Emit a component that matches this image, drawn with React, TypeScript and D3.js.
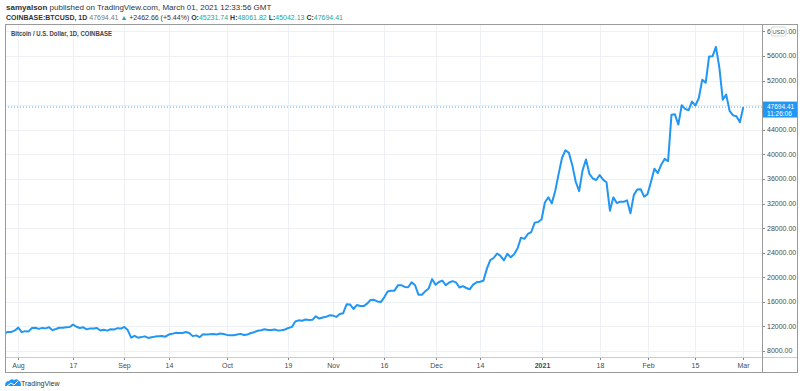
import React from "react";
import * as d3 from "d3";

// daily closes, Coinbase BTC/USD
const startDay = "2020-07-28";
const julCloses = [10930, 11100, 11110, 11350];
const augCloses = [11800, 11070, 11230, 11190, 11740, 11770, 11600, 11760, 11680, 11880, 11390, 11570, 11780, 11770, 11860, 11910, 12300, 11950, 11750, 11860, 11520, 11680, 11650, 11750, 11330, 11470, 11320, 11540, 11480, 11710, 11650];
const sepCloses = [11920, 11400, 10170, 10470, 10170, 10260, 10380, 10130, 10230, 10340, 10390, 10440, 10330, 10680, 10790, 10950, 10940, 10930, 11090, 10920, 10420, 10540, 10240, 10740, 10690, 10730, 10770, 10700, 10840, 10780];
const octCloses = [10620, 10570, 10550, 10670, 10790, 10600, 10670, 10930, 11060, 11300, 11380, 11540, 11430, 11430, 11500, 11320, 11370, 11500, 11750, 11920, 12810, 12990, 12930, 13120, 13040, 13070, 13650, 13280, 13460, 13560, 13800];
const novCloses = [13760, 13550, 14020, 14150, 15590, 15580, 14830, 15480, 15330, 15310, 15700, 16290, 16330, 16070, 15960, 16730, 17670, 17800, 17820, 18680, 18710, 18420, 18370, 19160, 18740, 17160, 17140, 17730, 18180, 19700];
const decCloses = [18780, 19220, 19450, 18700, 19150, 19370, 19170, 18330, 18550, 18250, 18040, 18810, 19170, 19280, 19440, 21360, 22800, 23130, 23860, 23480, 22740, 23820, 23250, 23730, 24710, 26440, 26250, 27040, 27360, 28890, 28990];
const janCloses = [29390, 32200, 33000, 32020, 34030, 36820, 39450, 40670, 40240, 38240, 35540, 34010, 37390, 39150, 36830, 36070, 35820, 36630, 35890, 35470, 30830, 33000, 32090, 32280, 32270, 32520, 30420, 33400, 34270, 34320, 33110];
const febCloses = [33530, 35510, 37670, 36930, 38310, 39260, 38880, 46450, 46510, 44840, 47990, 47400, 47180, 48580, 47940, 49160, 52150, 51640, 55920, 55940, 57490, 54120, 48900, 49710, 47060, 46340, 46190, 45230];
const marCloses = [47694.41];

const priceTicks = [8000, 12000, 16000, 20000, 24000, 28000, 32000, 36000, 40000, 44000, 48000, 52000, 56000, 60000];
const timeTicks: [string, string][] = [
  ["2020-08-01", "Aug"], ["2020-08-17", "17"], ["2020-09-01", "Sep"], ["2020-09-14", "14"],
  ["2020-10-01", "Oct"], ["2020-10-19", "19"], ["2020-11-01", "Nov"], ["2020-11-16", "16"],
  ["2020-12-01", "Dec"], ["2020-12-14", "14"], ["2021-01-01", "2021"], ["2021-01-18", "18"],
  ["2021-02-01", "Feb"], ["2021-02-15", "15"], ["2021-03-01", "Mar"],
];

const lastPrice = 47694.41;
const countdown = "11:26:06";

const W = 812;
const H = 391;
const frame = { left: 5, top: 24, right: 798, bottom: 373 };
const priceAxisX = 762;
const timeAxisY = 357;
const font = "'Liberation Sans', Arial, sans-serif";
const blue = "#2196f3";
const teal = "#26a69a";

export default function App() {
  const closes = [...julCloses, ...augCloses, ...sepCloses, ...octCloses, ...novCloses, ...decCloses, ...janCloses, ...febCloses, ...marCloses];
  const t0 = new Date(startDay + "T00:00:00Z");
  const data = closes.map((v, i) => ({ date: d3.utcDay.offset(t0, i), value: v }));

  const x = d3
    .scaleUtc()
    .domain([new Date("2020-08-01T00:00:00Z"), new Date("2021-03-01T00:00:00Z")])
    .range([18.3, 743.3]);
  const y = d3.scaleLinear().domain([8000, 56000]).range([351, 56]);

  const line = d3
    .line<{ date: Date; value: number }>()
    .x((d) => x(d.date))
    .y((d) => y(d.value));

  const fmt = d3.format(".2f");
  const yLast = y(lastPrice);
  const boxTop = yLast - 5.5;
  const boxH = 16;

  return (
    <div style={{ position: "absolute", left: 0, top: 0 }}>
      <svg width={W} height={H} style={{ display: "block", background: "#fff", fontFamily: font }}>
        <defs>
          <clipPath id="plot">
            <rect x={frame.left} y={frame.top} width={priceAxisX - frame.left} height={timeAxisY - frame.top} />
          </clipPath>
        </defs>
        {/* header */}
        <text x={6} y={10} fontSize={8} fill="#333">
          <tspan fontWeight="bold">samyalson</tspan> published on TradingView.com, March 01, 2021 12:33:56 GMT
        </text>
        <text x={6} y={20} fontSize={7} fill="#333" textLength={337} lengthAdjust="spacingAndGlyphs">
          <tspan fontWeight="bold">COINBASE:BTCUSD, 1D</tspan>
          <tspan fill="#777"> 47694.41 </tspan>
          <tspan fill={teal}>▲</tspan>
          <tspan> +2462.66 (+5.44%) </tspan>
          <tspan fontWeight="bold">O:</tspan><tspan fill={teal}>45231.74 </tspan>
          <tspan fontWeight="bold">H:</tspan><tspan fill={teal}>48061.82 </tspan>
          <tspan fontWeight="bold">L:</tspan><tspan fill={teal}>45042.13 </tspan>
          <tspan fontWeight="bold">C:</tspan><tspan fill={teal}>47694.41</tspan>
        </text>

        {/* grid */}
        <g stroke="#edf1f6" strokeWidth={1} clipPath="url(#plot)">
          {priceTicks.map((p) => (
            <line key={p} x1={frame.left} x2={priceAxisX} y1={Math.round(y(p)) + 0.5} y2={Math.round(y(p)) + 0.5} />
          ))}
          {timeTicks.map(([d]) => {
            const xx = Math.round(x(new Date(d + "T00:00:00Z"))) + 0.5;
            return <line key={d} x1={xx} x2={xx} y1={frame.top} y2={timeAxisY} />;
          })}
        </g>

        <text x={11} y={36} fontSize={7} fontWeight="bold" fill="#444" textLength={101} lengthAdjust="spacingAndGlyphs">
          Bitcoin / U.S. Dollar, 1D, COINBASE
        </text>

        {/* last price line */}
        <line x1={frame.left} x2={priceAxisX} y1={yLast} y2={yLast} stroke={blue} strokeWidth={1} strokeDasharray="1,2" opacity={0.8} />

        {/* series */}
        <path d={line(data) ?? ""} fill="none" stroke={blue} strokeWidth={2} strokeLinejoin="round" clipPath="url(#plot)" />

        {/* price axis; labels under the last-price box are hidden */}
        <g fontSize={7} fill="#4a4a4a">
          {priceTicks.map((p) => {
            const yy = y(p);
            const hidden = yy > boxTop - 4 && yy < boxTop + boxH + 4;
            return (
              <g key={p}>
                <line x1={priceAxisX} x2={priceAxisX + 3} y1={Math.round(yy) + 0.5} y2={Math.round(yy) + 0.5} stroke="#888" />
                {!hidden && <text x={priceAxisX + 5} y={yy} dy="0.35em">{fmt(p)}</text>}
              </g>
            );
          })}
        </g>
        <rect x={priceAxisX + 9} y={27} width={15} height={9} rx={2} fill="#fff" stroke="#ccc" strokeWidth={0.8} />
        <text x={priceAxisX + 16.5} y={34} fontSize={6} fill="#555" textAnchor="middle">USD</text>

        <rect x={priceAxisX} y={boxTop} width={frame.right - priceAxisX - 1} height={boxH} fill={blue} />
        <text x={priceAxisX + 5} y={yLast + 2.3} fontSize={6.5} fill="#fff">{fmt(lastPrice)}</text>
        <text x={priceAxisX + 5} y={yLast + 9.3} fontSize={6.5} fill="#fff">{countdown}</text>

        {/* time axis */}
        <g fontSize={7} fill="#4a4a4a">
          {timeTicks.map(([d, label]) => {
            const xx = Math.round(x(new Date(d + "T00:00:00Z"))) + 0.5;
            return (
              <g key={d}>
                <line x1={xx} x2={xx} y1={timeAxisY} y2={timeAxisY + 3} stroke="#888" />
                <text x={xx} y={timeAxisY + 11} textAnchor="middle" fontWeight={label === "2021" ? "bold" : "normal"}>{label}</text>
              </g>
            );
          })}
        </g>

        {/* frame */}
        <line x1={frame.left} x2={frame.right} y1={timeAxisY + 0.5} y2={timeAxisY + 0.5} stroke="#ccc" />
        <line x1={priceAxisX + 0.5} x2={priceAxisX + 0.5} y1={frame.top} y2={frame.bottom} stroke="#9a9a9a" />
        <rect x={frame.left + 0.5} y={frame.top + 0.5} width={frame.right - frame.left - 1} height={frame.bottom - frame.top - 1} fill="none" stroke="#9a9a9a" />

        {/* logo */}
        <g transform="translate(5,378)">
          <path d="M0 8 Q0 3 4 3 Q6 0 9 2 Q12 0 14 3 Q16 3 16 8 Z" fill={blue} />
          <path d="M2 8 L6 5 L9 7 L13 3" fill="none" stroke="#fff" strokeWidth={1} />
        </g>
        <text x={21} y={386} fontSize={7} fill="#333">TradingView</text>
      </svg>
    </div>
  );
}
